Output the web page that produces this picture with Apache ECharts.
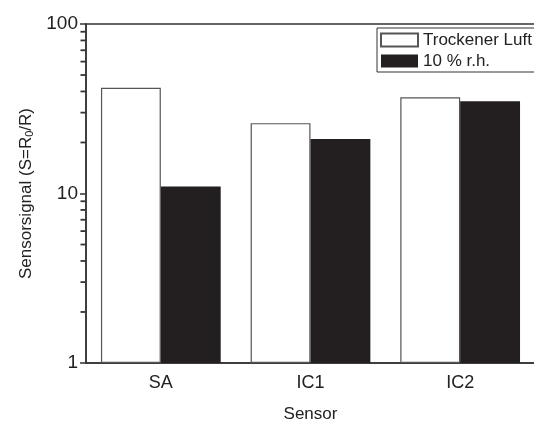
<!DOCTYPE html>
<html>
<head>
<meta charset="utf-8">
<script src="https://cdn.jsdelivr.net/npm/echarts@6/dist/echarts.min.js"></script>
<style>
  html, body { margin: 0; padding: 0; background: #fff; }
  #chart { width: 534px; height: 424px; }
</style>
</head>
<body>
<div id="chart"></div>
<script>
// sensor categories and the two measurement series
var sensors = ['SA', 'IC1', 'IC2'];
var dryAir = [42, 26, 37];
var humid10 = [11, 21, 35];
// minor ticks on the log axis
var minorTicks = [2, 3, 4, 5, 6, 7, 8, 9, 20, 30, 40, 50, 60, 70, 80, 90];

var font = 'Liberation Sans, Arial, Helvetica, sans-serif';
var axisColor = '#333';

var myChart = echarts.init(document.getElementById('chart'));

var option = {
    animation: false,
    textStyle: { fontFamily: font },
    grid: {
        left: 86,
        right: -1,
        top: 24,
        bottom: 61,
        outerBoundsMode: 'none',
        containLabel: false,
        show: true,
        borderColor: axisColor,
        borderWidth: 1.5
    },
    legend: {
        data: ['Trockener Luft', '10 % r.h.'],
        orient: 'vertical',
        left: 377,
        top: 28,
        icon: 'rect',
        itemWidth: 37,
        itemHeight: 13,
        itemGap: 3,
        padding: [3, 6, 2, 3],
        borderColor: axisColor,
        borderWidth: 1,
        textStyle: { fontSize: 17, lineHeight: 18, color: '#222', fontFamily: font }
    },
    xAxis: [
        {
            type: 'category',
            data: sensors,
            name: 'Sensor',
            nameLocation: 'middle',
            nameGap: 43,
            nameTextStyle: { fontSize: 17, color: '#222', fontFamily: font },
            axisLine: { lineStyle: { color: axisColor, width: 1.5 } },
            axisTick: { alignWithLabel: true, length: 5, lineStyle: { color: axisColor, width: 1.5 } },
            axisLabel: { fontSize: 18, color: '#222', margin: 11, fontFamily: font },
            splitLine: { show: false }
        },
        {
            // hidden helper axis so minor ticks sit on the left edge
            type: 'value',
            min: 0,
            max: 1,
            show: false
        }
    ],
    yAxis: {
        type: 'log',
        logBase: 10,
        min: 1,
        max: 100,
        name: 'Sensorsignal (S=R{sub|0}/R)',
        nameLocation: 'middle',
        nameGap: 46,
        nameTextStyle: {
            fontSize: 17, color: '#222', fontFamily: font,
            rich: { sub: { fontSize: 11, verticalAlign: 'bottom', padding: [8, 0, 0, 0], color: '#222' } }
        },
        axisLine: { show: true, lineStyle: { color: axisColor, width: 1.5 } },
        axisTick: { show: true, inside: false, length: 6, lineStyle: { color: axisColor, width: 1.5 } },
        axisLabel: { fontSize: 19, color: '#222', margin: 8, fontFamily: font },
        splitLine: { show: false }
    },
    series: [
        {
            name: 'Trockener Luft',
            type: 'bar',
            data: dryAir,
            barGap: '0%',
            barCategoryGap: '20%',
            itemStyle: { color: '#fff', borderColor: '#555', borderWidth: 1.2 }
        },
        {
            name: '10 % r.h.',
            type: 'bar',
            data: humid10,
            itemStyle: { color: '#231f20', borderColor: '#231f20', borderWidth: 0 }
        },
        {
            // minor ticks of the log axis
            type: 'scatter',
            xAxisIndex: 1,
            silent: true,
            clip: false,
            z: 10,
            symbol: 'rect',
            symbolSize: [5, 1.8],
            symbolOffset: [-3, 0],
            itemStyle: { color: axisColor, opacity: 1 },
            data: minorTicks.map(function (v) { return [0, v]; })
        }
    ]
};

myChart.setOption(option);
</script>
</body>
</html>
